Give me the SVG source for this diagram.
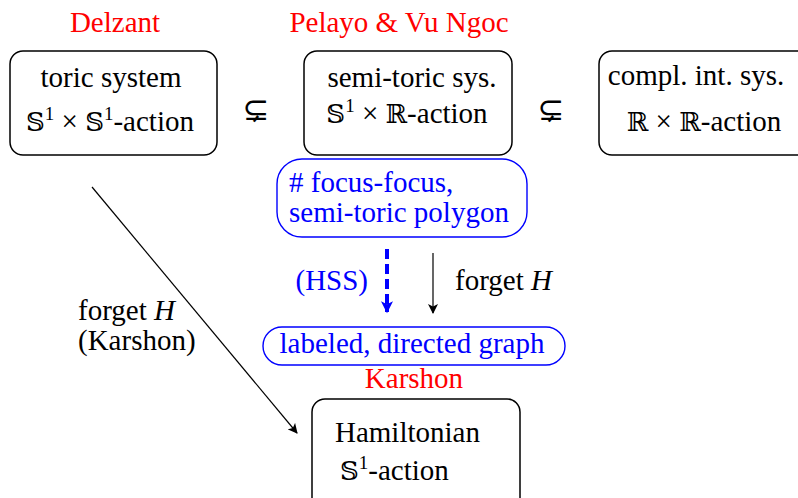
<svg xmlns="http://www.w3.org/2000/svg" width="798" height="498" viewBox="0 0 798 498" font-family="'Liberation Serif', 'Times New Roman', Times, 'DejaVu Serif', serif" font-size="29">
<style>
text{font-family:'Liberation Serif','Times New Roman',Times,'DejaVu Serif',serif;font-size:29px;fill:#000}
.red{fill:#ff0000}
.blue{fill:#0000ff}
.box{fill:#fff;stroke:#000;stroke-width:1.5}
.bbox{fill:#fff;stroke:#0000ff;stroke-width:1.4}
.bb{font-family:'DejaVu Serif','DejaVu Sans',serif;font-size:26px}
.sup{font-family:'Liberation Serif','Times New Roman',serif;font-size:19px}
.sub{font-family:'DejaVu Serif','DejaVu Sans',serif;font-size:32px}
</style>
<defs>
<marker id="ah" viewBox="0 0 10 10" refX="9" refY="5" markerWidth="10" markerHeight="10" markerUnits="userSpaceOnUse" orient="auto"><path d="M0,0 L10,5 L0,10 L2.5,5 Z" fill="#000"/></marker>
<marker id="ahb" viewBox="0 0 10 10" refX="9" refY="5" markerWidth="14" markerHeight="12" markerUnits="userSpaceOnUse" orient="auto"><path d="M0,0 L10,5 L0,10 L2.5,5 Z" fill="#0000ff"/></marker>
</defs>
<g id="labels">
<text class="red" x="115" y="32" text-anchor="middle">Delzant</text>
<text class="red" x="399" y="32" text-anchor="middle">Pelayo &amp; Vu Ngoc</text>
<text class="red" x="414" y="388" text-anchor="middle">Karshon</text>
<text class="sub" x="256" y="120" text-anchor="middle">⊊</text>
<text class="sub" x="551" y="120" text-anchor="middle">⊊</text>
</g>
<g id="toric">
<rect class="box" x="10" y="51" width="207" height="104" rx="13"/>
<text x="111" y="87" text-anchor="middle">toric system</text>
<text x="110" y="131" text-anchor="middle"><tspan class="bb">𝕊</tspan><tspan class="sup" dy="-11">1</tspan><tspan dy="11"> × </tspan><tspan class="bb">𝕊</tspan><tspan class="sup" dy="-11">1</tspan><tspan dy="11">-action</tspan></text>
</g>
<g id="semitoric">
<rect class="box" x="304" y="51" width="208" height="104" rx="13"/>
<text x="412" y="87" text-anchor="middle">semi-toric sys.</text>
<text x="407" y="123" text-anchor="middle"><tspan class="bb">𝕊</tspan><tspan class="sup" dy="-11">1</tspan><tspan dy="11"> × </tspan><tspan class="bb">ℝ</tspan>-action</text>
</g>
<g id="complint">
<rect class="box" x="599" y="51" width="215" height="104" rx="13"/>
<text x="696" y="85" text-anchor="middle">compl. int. sys.</text>
<text x="704" y="131" text-anchor="middle"><tspan class="bb">ℝ</tspan> × <tspan class="bb">ℝ</tspan>-action</text>
</g>
<g id="polygon">
<rect class="bbox" x="277" y="159" width="250" height="78" rx="25"/>
<text class="blue" x="289" y="192"># focus-focus,</text>
<text class="blue" x="289" y="222">semi-toric polygon</text>
</g>
<g id="graph">
<rect class="bbox" x="263" y="327" width="302" height="38" rx="19"/>
<text class="blue" x="412" y="353" text-anchor="middle">labeled, directed graph</text>
</g>
<g id="hamiltonian">
<rect class="box" x="312" y="399" width="208" height="115" rx="13"/>
<text x="335" y="442">Hamiltonian</text>
<text x="340" y="480"><tspan class="bb">𝕊</tspan><tspan class="sup" dy="-11">1</tspan><tspan dy="11">-action</tspan></text>
</g>
<g id="connectors">
<line x1="387" y1="249" x2="387" y2="312" stroke="#0000ff" stroke-width="4" stroke-dasharray="10,5" marker-end="url(#ahb)"/>
<line x1="433" y1="253" x2="433" y2="313" stroke="#000" stroke-width="1.2" marker-end="url(#ah)"/>
<line x1="92" y1="187" x2="297" y2="433" stroke="#000" stroke-width="1.2" marker-end="url(#ah)"/>
<text class="blue" x="368" y="290" text-anchor="end">(HSS)</text>
<text x="455" y="290">forget <tspan font-style="italic">H</tspan></text>
<text x="78" y="320">forget <tspan font-style="italic">H</tspan></text>
<text x="78" y="350">(Karshon)</text>
</g>
</svg>
